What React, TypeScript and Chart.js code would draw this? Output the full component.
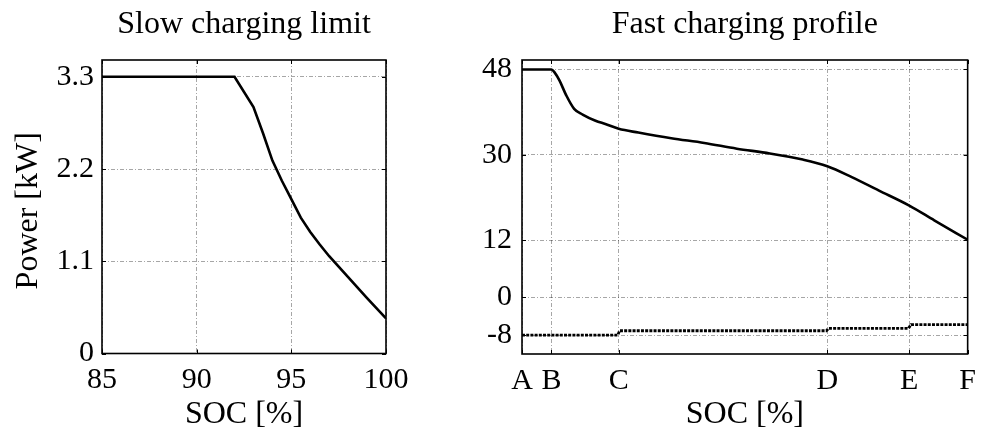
import { useEffect, useRef } from 'react';
import { Chart, registerables } from 'chart.js';

Chart.register(...registerables);

// ---------- Data ----------
// Left: slow charging limit
const slowSoc = [85, 92, 93, 93.5, 94, 94.5, 95, 95.5, 96, 96.5, 97, 98, 99, 100];
const slowPower = [3.3, 3.3, 2.94, 2.63, 2.3, 2.06, 1.84, 1.62, 1.45, 1.3, 1.16, 0.91, 0.66, 0.42];
const slowXTicks = [85, 90, 95, 100];
const slowYTicks = [0, 1.1, 2.2, 3.3];
const slowYTickLabels = ['0', '1.1', '2.2', '3.3'];

// Right: fast charging profile (x in relative SOC position, A..F)
const fastSoc = [0, 6.6, 7.3, 8.4, 9.9, 11.7, 13.6, 16.5, 18.7, 21.7, 26.1, 33.5, 40.9, 48.2, 55.6, 63, 68.5, 74, 80, 86.9, 92.5, 100];
const fastPower = [48, 48, 47.4, 45.7, 42.6, 39.7, 38.5, 37.2, 36.5, 35.5, 34.7, 33.5, 32.5, 31.3, 30.3, 29.0, 27.6, 25.3, 22.5, 19.3, 16.2, 12.1];
const limitSoc = [0, 21.5, 21.9, 68.3, 68.8, 86.7, 87.3, 100];
const limitPower = [-8, -8, -7.1, -7.1, -6.6, -6.6, -5.8, -5.8];
const fastXTicks = [0, 6.6, 21.7, 68.5, 86.9, 100];
const fastXTickLabels = ['A', 'B', 'C', 'D', 'E', 'F'];
const fastYTicks = [-8, 0, 12, 30, 48];
const fastYTickLabels = ['-8', '0', '12', '30', '48'];

const FAMILY = '"Liberation Serif", "Times New Roman", serif';
const TICK_FONT = { family: FAMILY, size: 30, weight: 'normal' as const };
const TITLE_FONT = { family: FAMILY, size: 32, weight: 'normal' as const };
const GRID_COLOR = 'rgba(0,0,0,0.35)';
const GRID_DASH = [4, 2, 1, 2];

const framePlugin = {
  id: 'frameBox',
  afterDraw(chart: any) {
    const { ctx, chartArea } = chart;
    const { left, right, top, bottom } = chartArea;
    const xs = chart.scales.x;
    const ys = chart.scales.y;
    ctx.save();
    ctx.strokeStyle = '#000';
    ctx.lineWidth = 1;
    const tl = 4;
    ctx.beginPath();
    xs.ticks.forEach((t: any) => {
      const px = Math.round(xs.getPixelForValue(t.value)) + 0.5;
      ctx.moveTo(px, bottom);
      ctx.lineTo(px, bottom - tl);
      ctx.moveTo(px, top);
      ctx.lineTo(px, top + tl);
    });
    ys.ticks.forEach((t: any) => {
      const py = Math.round(ys.getPixelForValue(t.value)) + 0.5;
      ctx.moveTo(left, py);
      ctx.lineTo(left + tl, py);
      ctx.moveTo(right, py);
      ctx.lineTo(right - tl, py);
    });
    ctx.stroke();
    ctx.lineWidth = 1.6;
    ctx.strokeRect(left, top, right - left, bottom - top);
    ctx.restore();
  },
};

function makeXY(xs: number[], ys: number[]) {
  return xs.map((x, i) => ({ x, y: ys[i] }));
}

function commonScale(min: number, max: number, tickVals: number[], labels: string[] | null, padding: number) {
  return {
    type: 'linear' as const,
    min,
    max,
    afterBuildTicks: (s: any) => {
      s.ticks = tickVals.map((v) => ({ value: v }));
    },
    ticks: {
      font: TICK_FONT,
      color: '#000',
      padding,
      autoSkip: false,
      maxRotation: 0,
      minRotation: 0,
      callback: (v: any, i: number) => (labels ? labels[i] : String(v)),
    },
    grid: { color: GRID_COLOR, drawTicks: false, lineWidth: 1 },
    border: { display: false, dash: GRID_DASH },
  };
}

function LeftChart() {
  const ref = useRef<HTMLCanvasElement | null>(null);
  useEffect(() => {
    if (!ref.current) return;
    const chart = new Chart(ref.current, {
      type: 'line',
      data: {
        datasets: [
          {
            data: makeXY(slowSoc, slowPower),
            borderColor: '#000',
            borderWidth: 2.6,
            pointRadius: 0,
            tension: 0,
            fill: false,
          },
        ],
      },
      options: {
        responsive: false,
        animation: false,
        layout: { padding: { left: 0, right: 44, top: 0, bottom: 0 } },
        plugins: {
          legend: { display: false },
          tooltip: { enabled: false },
          title: {
            display: true,
            text: 'Slow charging limit',
            fullSize: false,
            color: '#000',
            font: TITLE_FONT,
            padding: { top: 5, bottom: 16.6 },
          },
        },
        scales: {
          x: {
            ...commonScale(85, 100, slowXTicks, null, 9),
            title: { display: true, text: 'SOC [%]', color: '#000', font: TITLE_FONT, padding: { top: 0, bottom: 0 } },
            afterFit: (s: any) => {
              s.height = 80.5;
            },
          },
          y: {
            ...commonScale(0, 3.5, slowYTicks, slowYTickLabels, 8),
            title: { display: true, text: 'Power [kW] ', color: '#000', font: TITLE_FONT, padding: { top: 9, bottom: 0 } },
            afterFit: (s: any) => {
              s.width = 102;
            },
          },
        },
      } as any,
      plugins: [framePlugin],
    });
    return () => chart.destroy();
  }, []);
  return <canvas ref={ref} width={430} height={434} />;
}

function RightChart() {
  const ref = useRef<HTMLCanvasElement | null>(null);
  useEffect(() => {
    if (!ref.current) return;
    const chart = new Chart(ref.current, {
      type: 'line',
      data: {
        datasets: [
          {
            data: makeXY(fastSoc, fastPower),
            borderColor: '#000',
            borderWidth: 2.6,
            pointRadius: 0,
            cubicInterpolationMode: 'monotone',
            fill: false,
          },
          {
            data: makeXY(limitSoc, limitPower),
            borderColor: '#000',
            borderWidth: 2.8,
            borderDash: [3, 1.2],
            pointRadius: 0,
            tension: 0,
            fill: false,
          },
        ],
      },
      options: {
        responsive: false,
        animation: false,
        layout: { padding: { left: 0, right: 11, top: 0, bottom: 0 } },
        plugins: {
          legend: { display: false },
          tooltip: { enabled: false },
          title: {
            display: true,
            text: 'Fast charging profile',
            fullSize: false,
            color: '#000',
            font: TITLE_FONT,
            padding: { top: 5, bottom: 16.6 },
          },
        },
        scales: {
          x: {
            ...commonScale(0, 100, fastXTicks, fastXTickLabels, 9),
            title: { display: true, text: 'SOC [%]', color: '#000', font: TITLE_FONT, padding: { top: 0, bottom: 0 } },
            afterFit: (s: any) => {
              s.height = 80;
            },
          },
          y: {
            ...commonScale(-12, 50, fastYTicks, fastYTickLabels, 10),
            afterFit: (s: any) => {
              s.width = 92;
            },
          },
        },
      } as any,
      plugins: [framePlugin],
    });
    return () => chart.destroy();
  }, []);
  return <canvas ref={ref} width={555} height={434} />;
}

export default function App() {
  return (
    <div style={{ position: 'fixed', left: 0, top: 0, width: 985, height: 434, background: '#fff', overflow: 'hidden' }}>
      <div style={{ position: 'absolute', left: 0, top: 0, width: 430, height: 434 }}>
        <LeftChart />
      </div>
      <div style={{ position: 'absolute', left: 430, top: 0, width: 555, height: 434 }}>
        <RightChart />
      </div>
    </div>
  );
}
